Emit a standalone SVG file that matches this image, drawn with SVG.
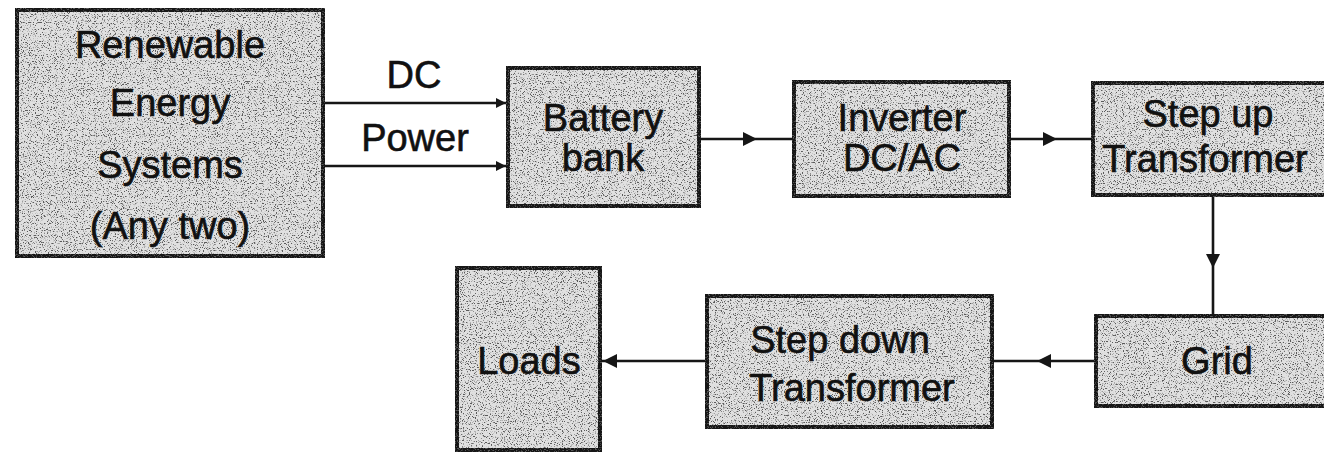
<svg xmlns="http://www.w3.org/2000/svg" width="1324" height="452" viewBox="0 0 1324 452">
  <defs>
    <style>
      .box { fill: #e0e0e0; stroke: #161616; stroke-width: 4; filter: url(#grain); }
      .edge { stroke: #161616; stroke-width: 2.6; fill: none; }
      .lbl { font-family: "Liberation Sans", Arial, sans-serif; font-size: 38px; fill: #111111; stroke: #111111; stroke-width: 0.6; text-anchor: middle; }
    </style>
    <!-- stippled print texture for the block fills -->
    <filter id="grain" x="-2%" y="-2%" width="104%" height="104%">
      <feTurbulence type="fractalNoise" baseFrequency="0.85" numOctaves="2" seed="7" result="noise"/>
      <feColorMatrix in="noise" type="matrix" values="0 0 0 0 0.1  0 0 0 0 0.1  0 0 0 0 0.1  -7 0 0 0 3.2" result="dots"/>
      <feComposite in="dots" in2="SourceGraphic" operator="in" result="spk"/>
      <feMerge>
        <feMergeNode in="SourceGraphic"/>
        <feMergeNode in="spk"/>
      </feMerge>
    </filter>
    <marker id="ah" viewBox="0 0 10 10" refX="10" refY="5" markerUnits="userSpaceOnUse" markerWidth="16" markerHeight="14" orient="auto">
      <path d="M0,0 L10,5 L0,10 z" fill="#161616"/>
    </marker>
    <marker id="ahs" viewBox="0 0 10 10" refX="10" refY="5" markerUnits="userSpaceOnUse" markerWidth="12" markerHeight="10" orient="auto">
      <path d="M0,0 L10,5 L0,10 z" fill="#161616"/>
    </marker>
  </defs>

  <rect width="1324" height="452" fill="#ffffff"/>

  <g id="connectors">
    <path class="edge" d="M323 103 L506 103 L508 103" marker-mid="url(#ahs)"/>
    <path class="edge" d="M323 166 L506 166 L508 166" marker-mid="url(#ahs)"/>
    <path class="edge" d="M699 139 L757 139 L794 139" marker-mid="url(#ah)"/>
    <path class="edge" d="M1009 139 L1057 139 L1093 139" marker-mid="url(#ah)"/>
    <path class="edge" d="M1213 195 L1213 268 L1213 316" marker-mid="url(#ah)"/>
    <path class="edge" d="M1096 361 L1037 361 L992 361" marker-mid="url(#ah)"/>
    <path class="edge" d="M707 361 L603 361 L601 361" marker-mid="url(#ah)"/>
  </g>

  <g id="lbl-dc-power">
    <text class="lbl" x="414" y="88">DC</text>
    <text class="lbl" x="415" y="151">Power</text>
  </g>

  <g id="renewable">
    <rect class="box" x="17" y="10" width="306" height="246"/>
    <text class="lbl" x="170" y="58">Renewable</text>
    <text class="lbl" x="170" y="116">Energy</text>
    <text class="lbl" x="170" y="178">Systems</text>
    <text class="lbl" x="170" y="239">(Any two)</text>
  </g>

  <g id="battery">
    <rect class="box" x="508" y="68" width="191" height="138"/>
    <text class="lbl" x="603" y="131">Battery</text>
    <text class="lbl" x="603" y="171">bank</text>
  </g>

  <g id="inverter">
    <rect class="box" x="794" y="82" width="215" height="114"/>
    <text class="lbl" x="902" y="131">Inverter</text>
    <text class="lbl" x="902" y="171">DC/AC</text>
  </g>

  <g id="stepup">
    <rect class="box" x="1093" y="83" width="250" height="112"/>
    <text class="lbl" x="1208" y="127">Step up</text>
    <text class="lbl" x="1205" y="172">Transformer</text>
  </g>

  <g id="grid">
    <rect class="box" x="1096" y="316" width="250" height="90"/>
    <text class="lbl" x="1217" y="374">Grid</text>
  </g>

  <g id="stepdown">
    <rect class="box" x="707" y="296" width="285" height="131"/>
    <text class="lbl" x="840" y="353">Step down</text>
    <text class="lbl" x="852" y="401">Transformer</text>
  </g>

  <g id="loads">
    <rect class="box" x="457" y="268" width="143" height="182"/>
    <text class="lbl" x="529" y="374">Loads</text>
  </g>
</svg>
